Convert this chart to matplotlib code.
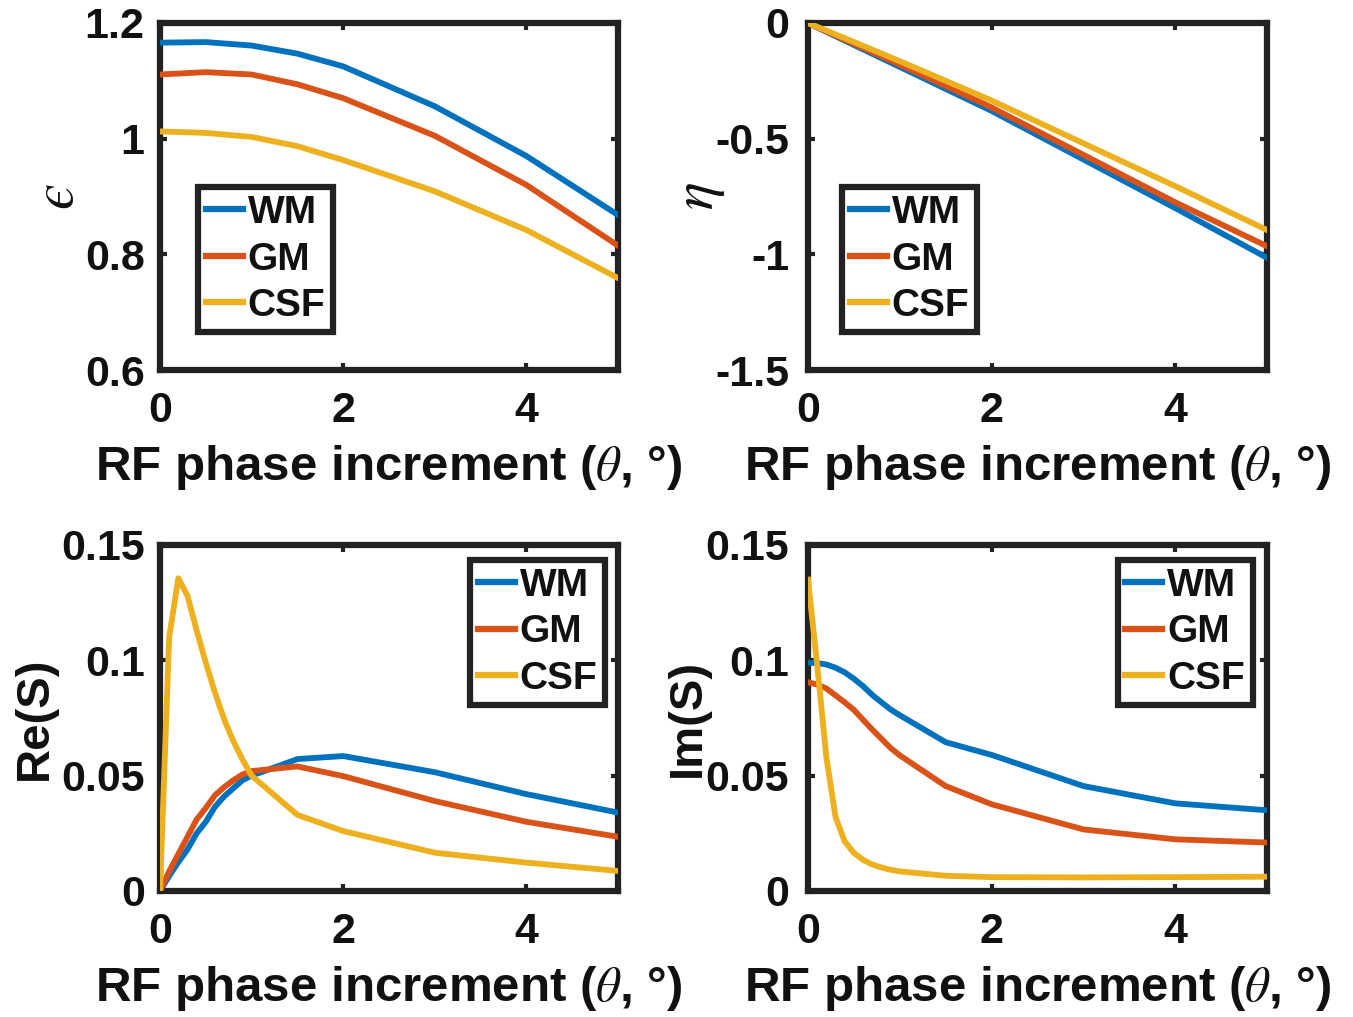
import matplotlib
matplotlib.use("Agg")
import matplotlib.pyplot as plt

# x grids (RF phase increment, degrees)
theta_top = [0, 0.5, 1, 1.5, 2, 3, 4, 5]
theta_bot = [0, 0.1, 0.2, 0.3, 0.4, 0.5, 0.6, 0.7, 0.8, 0.9, 1.0, 1.5, 2, 3, 4, 5]

tissues = ["WM", "GM", "CSF"]

# epsilon
eps_wm = [1.166, 1.167, 1.161, 1.147, 1.125, 1.056, 0.970, 0.868]
eps_gm = [1.111, 1.115, 1.111, 1.094, 1.070, 1.005, 0.920, 0.815]
eps_csf = [1.0125, 1.010, 1.003, 0.987, 0.963, 0.909, 0.842, 0.759]

# eta
eta_wm = [0, -0.095, -0.19, -0.285, -0.38, -0.59, -0.80, -1.015]
eta_gm = [0, -0.09, -0.18, -0.272, -0.365, -0.57, -0.775, -0.965]
eta_csf = [0, -0.082, -0.165, -0.25, -0.335, -0.52, -0.705, -0.895]

# Re(S)
re_wm = [0, 0.0065, 0.0125, 0.018, 0.025, 0.030, 0.0365, 0.041, 0.0445, 0.048, 0.050,
         0.0572, 0.0585, 0.0515, 0.042, 0.034]
re_gm = [0, 0.0085, 0.016, 0.0235, 0.031, 0.036, 0.0415, 0.045, 0.048, 0.0505, 0.052,
         0.054, 0.0498, 0.039, 0.030, 0.0235]
re_csf = [0, 0.110, 0.1356, 0.128, 0.113, 0.099, 0.086, 0.0745, 0.065, 0.057, 0.050,
          0.033, 0.026, 0.0166, 0.0123, 0.0087]

# Im(S)
im_wm = [0.099, 0.0988, 0.0982, 0.0968, 0.0948, 0.092, 0.0888, 0.085, 0.0818, 0.0787, 0.0762,
         0.0645, 0.059, 0.0455, 0.038, 0.035]
im_gm = [0.0905, 0.0895, 0.0878, 0.0848, 0.0818, 0.0785, 0.0742, 0.070, 0.066, 0.062, 0.0588,
         0.0455, 0.0376, 0.0267, 0.0224, 0.021]
im_csf = [0.135, 0.098, 0.058, 0.032, 0.0215, 0.0165, 0.0135, 0.0115, 0.0102, 0.0092, 0.0085,
          0.0066, 0.006, 0.0059, 0.006, 0.0062]

COLORS = ["#0072BD", "#D95319", "#EDB120"]
EDGE = "#222222"
TEXT = "#111111"

plt.rcParams.update({
    "font.family": ["Liberation Sans", "DejaVu Sans"],
    "mathtext.fontset": "stix",
})

fig = plt.figure(figsize=(13.53, 10.17), dpi=100)

W, H = 1353, 1017


def axes_at(x0, x1, y0, y1):
    return fig.add_axes([x0 / W, 1 - y1 / H, (x1 - x0) / W, (y1 - y0) / H])


XLABEL = r"RF phase increment ($\theta$, °)"


def style(ax, x, series, ylim, yticks, yticklabels, ylabel, ylab_x, ylab_weight, ylab_size,
          leg_loc, leg_anchor, ypad=11):
    for vals, c, name in zip(series, COLORS, tissues):
        ax.plot(x, vals, color=c, lw=4.2, label=name, zorder=3)
    ax.set_xlim(0, 5)
    ax.set_ylim(*ylim)
    ax.set_xticks([0, 2, 4])
    ax.set_xticklabels(["0", "2", "4"])
    ax.set_yticks(yticks)
    ax.set_yticklabels(yticklabels)
    ax.tick_params(axis="x", direction="in", top=True, length=5, width=3, labelsize=31, pad=15, colors=EDGE)
    ax.tick_params(axis="y", direction="in", right=True, length=5, width=3, labelsize=31, pad=ypad, colors=EDGE)
    for lab in ax.get_xticklabels() + ax.get_yticklabels():
        lab.set_fontweight("bold")
        lab.set_color(TEXT)
    for sp in ax.spines.values():
        sp.set_linewidth(4.5)
        sp.set_color(EDGE)
    ax.set_xlabel(XLABEL, fontsize=35.5, fontweight="bold", color=TEXT)
    ax.xaxis.set_label_coords(0.5, -0.21)
    ax.set_ylabel(ylabel, fontsize=ylab_size, fontweight=ylab_weight, color=TEXT, va="center")
    ax.yaxis.set_label_coords(ylab_x, 0.5)
    leg = ax.legend(loc=leg_loc, bbox_to_anchor=leg_anchor, frameon=True, fancybox=False,
                    handlelength=0.95, handletextpad=0.13, labelspacing=0.27, borderpad=0.2,
                    borderaxespad=0, prop={"weight": "bold", "size": 28})
    leg.get_frame().set_linewidth(4.5)
    leg.get_frame().set_edgecolor(EDGE)
    leg.get_frame().set_alpha(1)
    for ln in leg.get_lines():
        ln.set_linewidth(4.5)
    for t in leg.get_texts():
        t.set_color(TEXT)


ax1 = axes_at(160, 618, 23, 370)
style(ax1, theta_top, [eps_wm, eps_gm, eps_csf], (0.6, 1.2), [0.6, 0.8, 1.0, 1.2],
      ["0.6", "0.8", "1", "1.2"], "$\u03f5$", -0.222, "normal", 42, "lower left", (0.083, 0.11))

ax2 = axes_at(808, 1267, 23, 370)
style(ax2, theta_top, [eta_wm, eta_gm, eta_csf], (-1.5, 0), [-1.5, -1.0, -0.5, 0],
      ["-1.5", "-1", "-0.5", "0"], r"$\eta$", -0.236, "normal", 42, "lower left", (0.074, 0.11),
      ypad=13.5)

ax3 = axes_at(160, 618, 545, 891)
style(ax3, theta_bot, [re_wm, re_gm, re_csf], (0, 0.15), [0, 0.05, 0.1, 0.15],
      ["0", "0.05", "0.1", "0.15"], "Re(S)", -0.274, "bold", 34, "upper right", (0.9716, 0.9566))

ax4 = axes_at(808, 1267, 545, 891)
style(ax4, theta_bot, [im_wm, im_gm, im_csf], (0, 0.15), [0, 0.05, 0.1, 0.15],
      ["0", "0.05", "0.1", "0.15"], "Im(S)", -0.262, "bold", 34, "upper right", (0.969, 0.9566),
      ypad=13.5)

fig.savefig("out.png", dpi=100)
